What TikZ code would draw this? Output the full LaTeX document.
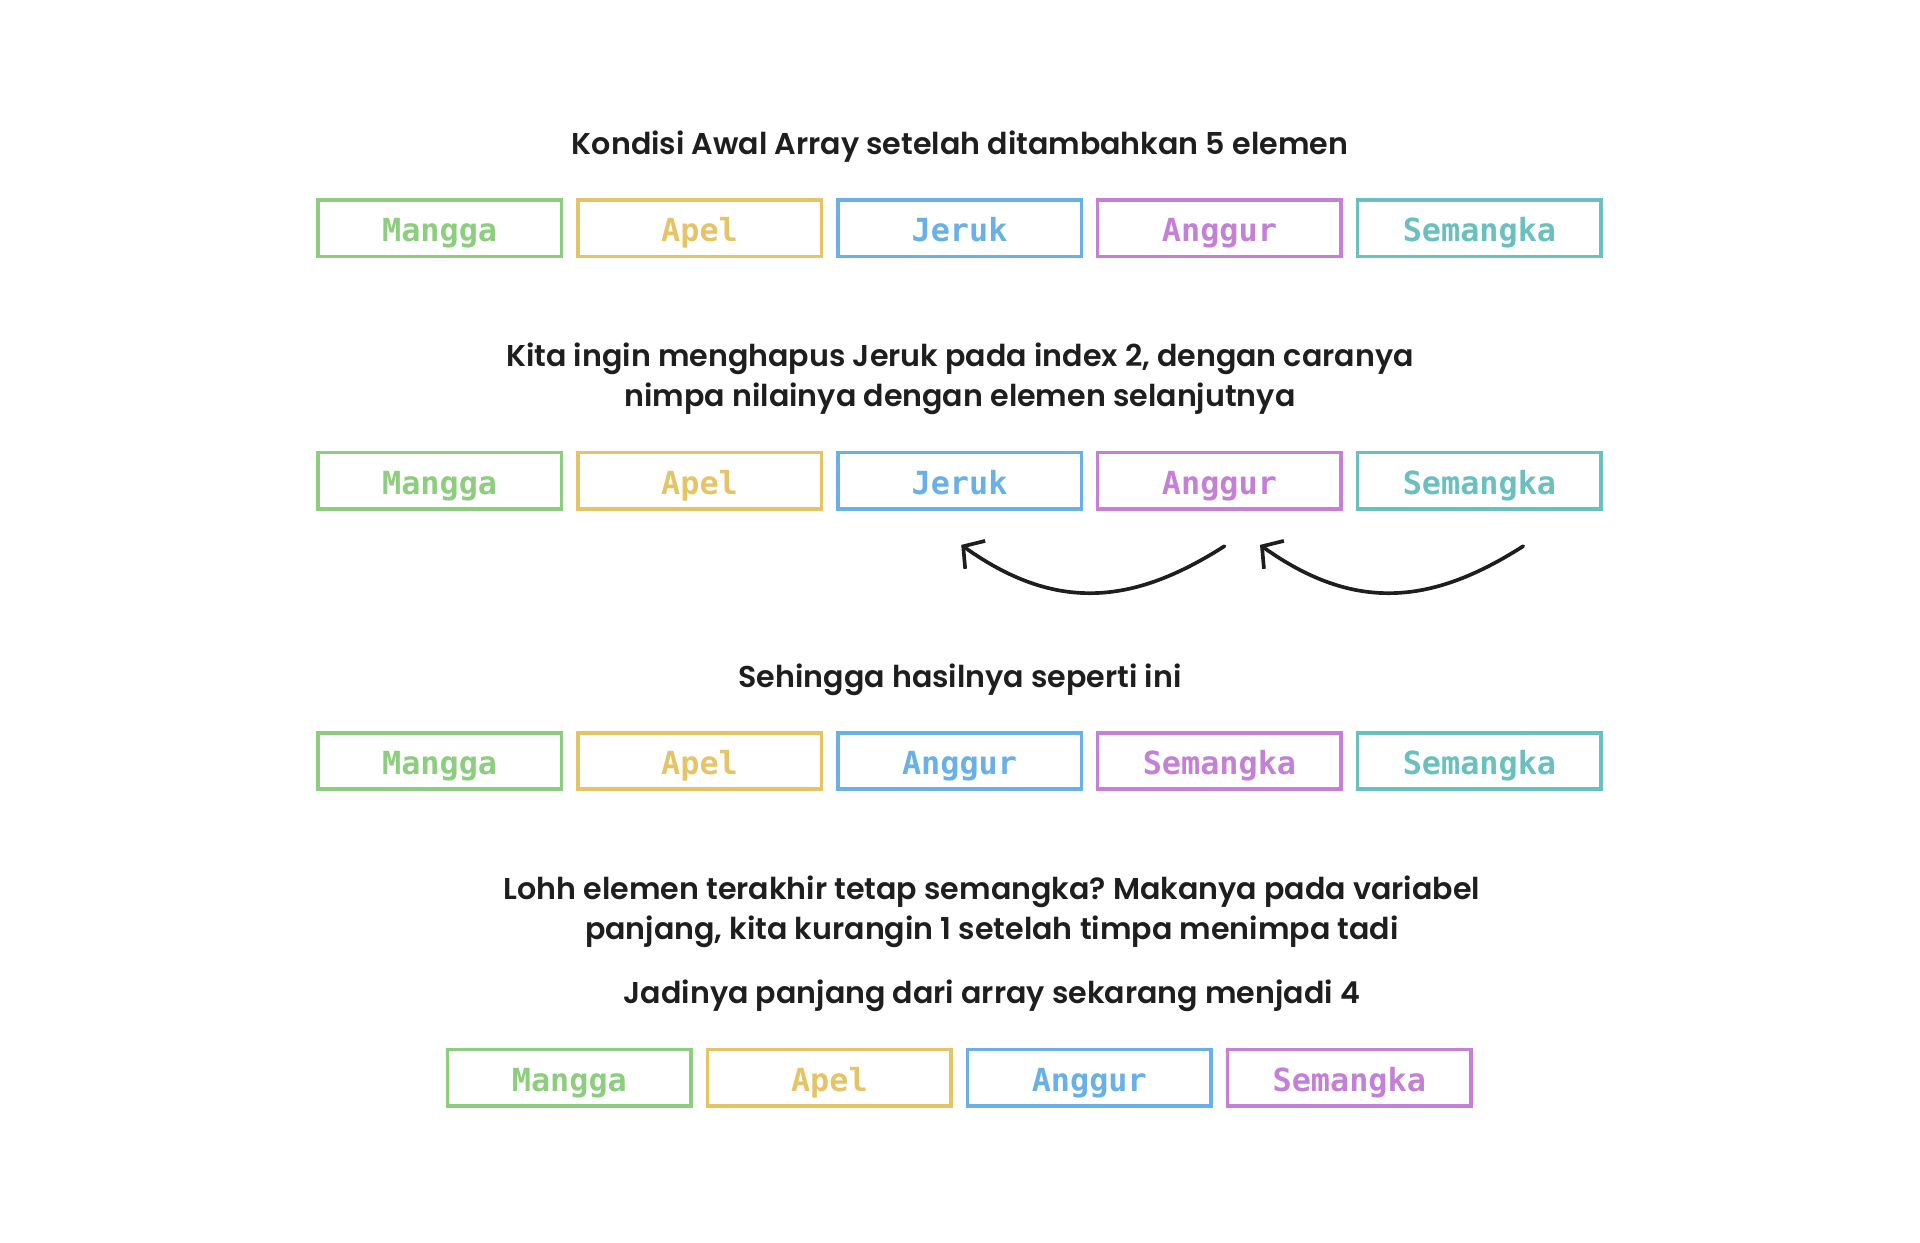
\documentclass[tikz,border=0pt]{standalone}
\usepackage{fontspec}
\setmainfont{Poppins}[UprightFont=* SemiBold]
\newfontfamily\boxfont{DejaVu Sans Mono}[UprightFont=* Bold]
\usetikzlibrary{arrows.meta}
\definecolor{cgreen}{RGB}{140,206,125}
\definecolor{cyellow}{RGB}{228,196,102}
\definecolor{cblue}{RGB}{104,176,230}
\definecolor{cpurple}{RGB}{196,128,214}
\definecolor{cteal}{RGB}{106,192,190}
\definecolor{ink}{RGB}{30,30,30}
\frenchspacing
\tikzset{
  cell/.style={draw=#1, line width=3pt, minimum width=199pt, minimum height=46pt,
    inner sep=0pt},
  celltext/.style={text=#1, inner sep=0pt, text height=19pt, text depth=0pt,
    font=\boxfont\fontsize{26}{28}\selectfont},
  caption/.style={text=ink, align=center, font=\fontsize{24.6}{33}\selectfont},
  move/.style={draw=ink, line width=3pt, line cap=round, -{Straight Barb[length=12pt,width=28pt,line width=3pt]}}
}
\newcommand{\cellat}[4]{%
  \node[cell=#3] (#1) at #2 {};
  \node[celltext=#3] (#1t) at ([yshift=-1.5pt]#1.center) {#4};}
\begin{document}
\begin{tikzpicture}[x=1pt,y=-1pt]
\useasboundingbox (0,0) rectangle (1568,1015);
% titles
\node[caption] (t1) at (784,120) {Kondisi Awal Array setelah ditambahkan 5 elemen};
\node[caption] (t2) at (784,309.5) {Kita ingin menghapus Jeruk pada index 2, dengan caranya\\nimpa nilainya dengan elemen selanjutnya};
\node[caption] (t3) at (784,555) {Sehingga hasilnya seperti ini};
\node[caption] (t4) at (810,744.5) {Lohh elemen terakhir tetap semangka? Makanya pada variabel\\panjang, kita kurangin 1 setelah timpa menimpa tadi};
\node[caption] (t5) at (810,813) {Jadinya panjang dari array sekarang menjadi 4};
% row 1
\cellat{a1}{(359,186.5)}{cgreen}{Mangga}
\cellat{a2}{(571.3,186.5)}{cyellow}{Apel}
\cellat{a3}{(783.6,186.5)}{cblue}{Jeruk}
\cellat{a4}{(995.9,186.5)}{cpurple}{Anggur}
\cellat{a5}{(1208.2,186.5)}{cteal}{Semangka}
% row 2
\cellat{b1}{(359,392.5)}{cgreen}{Mangga}
\cellat{b2}{(571.3,392.5)}{cyellow}{Apel}
\cellat{b3}{(783.6,392.5)}{cblue}{Jeruk}
\cellat{b4}{(995.9,392.5)}{cpurple}{Anggur}
\cellat{b5}{(1208.2,392.5)}{cteal}{Semangka}
% arrows
\coordinate (s1) at (1000,446);
\coordinate (e1) at (785,445);
\coordinate (s2) at (1244,446);
\coordinate (e2) at (1029,445);
\draw[move] (s1) .. controls (925,494) and (862,500) .. (e1);
\draw[move] (s2) .. controls (1169,494) and (1106,500) .. (e2);
% row 3
\cellat{c1}{(359,621.5)}{cgreen}{Mangga}
\cellat{c2}{(571.3,621.5)}{cyellow}{Apel}
\cellat{c3}{(783.6,621.5)}{cblue}{Anggur}
\cellat{c4}{(995.9,621.5)}{cpurple}{Semangka}
\cellat{c5}{(1208.2,621.5)}{cteal}{Semangka}
% row 4
\cellat{d1}{(465,880)}{cgreen}{Mangga}
\cellat{d2}{(677.3,880)}{cyellow}{Apel}
\cellat{d3}{(889.6,880)}{cblue}{Anggur}
\cellat{d4}{(1101.9,880)}{cpurple}{Semangka}
\end{tikzpicture}
\end{document}
